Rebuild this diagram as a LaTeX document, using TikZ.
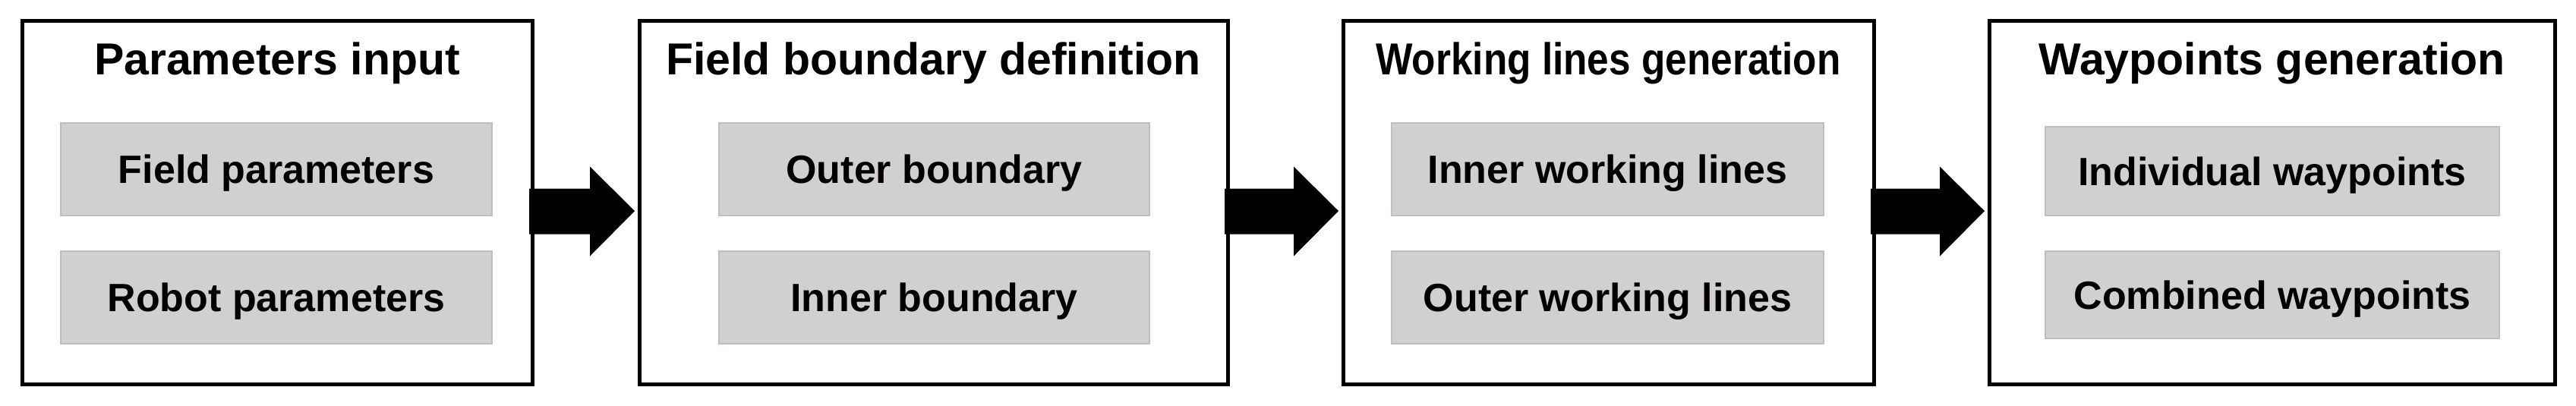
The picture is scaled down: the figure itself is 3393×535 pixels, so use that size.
\documentclass[tikz,border=0pt]{standalone}
\usepackage{fontspec}
\setmainfont{Liberation Sans}
\usetikzlibrary{calc}
\definecolor{itemfill}{RGB}{210,208,207}
\definecolor{itemline}{RGB}{192,190,190}
\tikzset{ %boxes of the four stages
  stagebox/.style={draw=black, line width=5pt, minimum height=478pt, inner sep=0pt, outer sep=0pt},
  stagetitle/.style={anchor=base, inner sep=0pt, font=\fontsize{59}{70}\selectfont\bfseries},
  itembox/.style={draw=itemline, fill=itemfill, line width=2pt, minimum height=122pt,
    inner sep=0pt, text height=37pt, text depth=0pt, font=\fontsize{52}{62}\selectfont\bfseries}
}
\begin{document}
\begin{tikzpicture}[x=1pt,y=-1pt] % y runs downwards
\useasboundingbox (0,0) rectangle (3393,535);

\node [stagebox, minimum width=672pt] (b1) at (365,267) {};
\node [stagebox, minimum width=775pt] (b2) at (1229.5,267) {};
\node [stagebox, minimum width=699pt] (b3) at (2118.5,267) {};
\node [stagebox, minimum width=745pt] (b4) at (2992.5,267) {};

\node [stagetitle] (t1) at ($(b1.north)+(0,71)$) {Parameters input};
\node [stagetitle] (t2) at ($(b2.north)+(0,71)$) {Field boundary definition};
\node [stagetitle] (t3) at ($(b3.north)+(0,71)$) {\scalebox{0.87}[1]{Working lines generation}};
\node [stagetitle] (t4) at ($(b4.north)+(0,71)$) {Waypoints generation};

\node [itembox, minimum width=568pt] (fieldpar) at ($(b1.center)+(-1,-44)$) {Field parameters};
\node [itembox, minimum width=568pt] (robotpar) at ($(b1.center)+(-1,125)$) {Robot parameters};
\node [itembox, minimum width=567pt] (outerbd) at ($(b2.center)+(1,-44)$) {Outer boundary};
\node [itembox, minimum width=567pt] (innerbd) at ($(b2.center)+(1,125)$) {Inner boundary};
\node [itembox, minimum width=569pt] (innerwl) at ($(b3.center)+(-1,-44)$) {Inner working lines};
\node [itembox, minimum width=569pt] (outerwl) at ($(b3.center)+(-1,125)$) {Outer working lines};
\node [itembox, minimum width=598pt, minimum height=117pt] (indivwp) at ($(b4.center)+(0.5,-41.5)$) {Individual waypoints};
\node [itembox, minimum width=598pt, minimum height=115pt] (combwp) at ($(b4.center)+(0.5,121.5)$) {Combined waypoints};

% block arrows between the stages
\foreach \a/\b in {b1/b2,b2/b3,b3/b4}
  \fill ($(\a.east)+(-4,-18.5)$) -- ($(\b.west)+(-65,-18.5)$) -- ($(\b.west)+(-65,-47.5)$)
    -- ($(\b.west)+(-6,11)$) -- ($(\b.west)+(-65,70.5)$) -- ($(\b.west)+(-65,41.5)$)
    -- ($(\a.east)+(-4,41.5)$) -- cycle;

\end{tikzpicture}
\end{document}
